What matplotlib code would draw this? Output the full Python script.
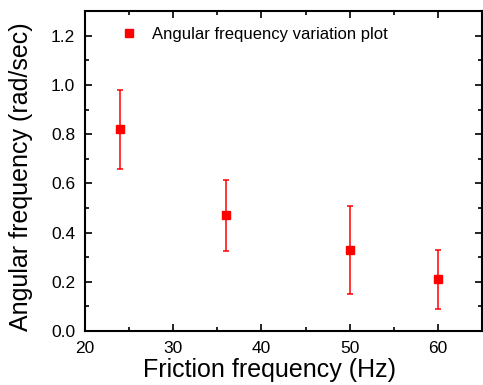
import matplotlib
matplotlib.use('Agg')
import matplotlib.pyplot as plt
from matplotlib.ticker import MultipleLocator

plt.rcParams['font.family'] = ['Liberation Sans', 'DejaVu Sans']

# data
freq = [24, 36, 50, 60]
omega = [0.82, 0.47, 0.33, 0.21]
err_lo = [0.16, 0.145, 0.18, 0.12]
err_hi = [0.16, 0.145, 0.18, 0.12]

fig = plt.figure(figsize=(4.83, 3.85), dpi=100)
ax = fig.add_axes([0.176, 0.140, 0.822, 0.831])

ax.errorbar(freq, omega, yerr=[err_lo, err_hi], fmt='none', ecolor='red',
            elinewidth=1.1, capsize=2.3, capthick=1.1)
ax.plot(freq, omega, 's', color='red', ms=6, ls='none',
        label='Angular frequency variation plot')

ax.set_xlim(20, 65)
ax.set_ylim(0, 1.3)
ax.set_xticks([20, 30, 40, 50, 60])
ax.xaxis.set_minor_locator(MultipleLocator(5))
ax.yaxis.set_major_locator(MultipleLocator(0.2))
ax.yaxis.set_minor_locator(MultipleLocator(0.1))
ax.yaxis.set_major_formatter(plt.FormatStrFormatter('%.1f'))

ax.tick_params(which='both', direction='in', top=True, right=True,
               width=1.2, labelsize=12.5)
ax.tick_params(which='major', length=5)
ax.tick_params(which='minor', length=3)
ax.tick_params(axis='x', which='major', pad=7)
ax.tick_params(axis='y', which='major', pad=7)
for s in ax.spines.values():
    s.set_linewidth(1.5)

ax.set_xlabel('Friction frequency (Hz)', fontsize=18)
ax.set_ylabel('Angular frequency (rad/sec)', fontsize=18)
ax.xaxis.set_label_coords(0.464, -0.085)
ax.yaxis.set_label_coords(-0.13, 0.484)

ax.legend(loc='upper left', frameon=False, fontsize=12, handletextpad=0.8,
          handlelength=1.2, borderaxespad=0.55, bbox_to_anchor=(0.045, 1.0))

fig.savefig('out.png', dpi=100)
